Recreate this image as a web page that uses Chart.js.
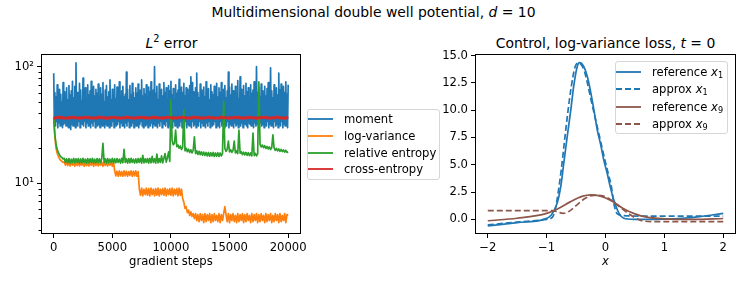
<!DOCTYPE html>
<html>
<head>
<meta charset="utf-8">
<script src="https://cdn.jsdelivr.net/npm/chart.js@4.4.1/dist/chart.umd.min.js"></script>
<style>
body { margin: 0; background: #fff; width: 747px; height: 291px; overflow: hidden; position: relative; font-family: 'DejaVu Sans', sans-serif; color: #000; }
canvas { position: absolute; top: 0; }
.t { position: absolute; text-align: center; white-space: nowrap; line-height: 16px; height: 16px; font-size: 13.9px; }
.leg { position: absolute; box-sizing: border-box; border: 1px solid #d6d6d6; border-radius: 3px; background: rgba(255,255,255,0.8); font-size: 11.6px; }
.row { position: absolute; left: 0; height: 16px; line-height: 16px; white-space: nowrap; }
.row svg { position: absolute; top: 6px; }
.row span { position: absolute; top: 0; }
sub { font-size: 70%; vertical-align: -2px; line-height: 0; }
sup { font-size: 70%; vertical-align: 6px; line-height: 0; }
</style>
</head>
<body>

<div class="t" style="left:0;width:747px;top:4px;">Multidimensional double well potential, <i>d</i> = 10</div>
<div class="t" style="left:42px;width:259px;top:35px;"><i>L</i><sup>2</sup> error</div>
<div class="t" style="left:476px;width:259px;top:35px;">Control, log-variance loss, <i>t</i> = 0</div>

<canvas id="lossChart" width="310" height="291" style="left:0"></canvas>
<canvas id="controlChart" width="307" height="291" style="left:440px"></canvas>

<div class="leg" style="left:307px;top:109px;width:133px;height:71px;">
  <div class="row" style="top:1px"><svg width="26" height="4"><line x1="0" y1="2" x2="25" y2="2" stroke="#1f77b4" stroke-width="1.8"/></svg><span style="left:36px">moment</span></div>
  <div class="row" style="top:17.5px"><svg width="26" height="4"><line x1="0" y1="2" x2="25" y2="2" stroke="#ff7f0e" stroke-width="1.8"/></svg><span style="left:36px">log-variance</span></div>
  <div class="row" style="top:34.5px"><svg width="26" height="4"><line x1="0" y1="2" x2="25" y2="2" stroke="#2ca02c" stroke-width="1.8"/></svg><span style="left:36px">relative entropy</span></div>
  <div class="row" style="top:51px"><svg width="26" height="4"><line x1="0" y1="2" x2="25" y2="2" stroke="#d62728" stroke-width="1.8"/></svg><span style="left:36px">cross-entropy</span></div>
</div>

<div class="leg" style="left:615px;top:61px;width:113px;height:73px;">
  <div class="row" style="top:2px"><svg width="26" height="4"><line x1="0" y1="2" x2="25" y2="2" stroke="#1f77b4" stroke-width="1.8"/></svg><span style="left:36px">reference <i>x</i><sub>1</sub></span></div>
  <div class="row" style="top:19px"><svg width="26" height="4"><line x1="0" y1="2" x2="25" y2="2" stroke="#1f77b4" stroke-width="1.8" stroke-dasharray="6,3"/></svg><span style="left:36px">approx <i>x</i><sub>1</sub></span></div>
  <div class="row" style="top:36.5px"><svg width="26" height="4"><line x1="0" y1="2" x2="25" y2="2" stroke="#8c564b" stroke-width="1.8"/></svg><span style="left:36px">reference <i>x</i><sub>9</sub></span></div>
  <div class="row" style="top:54px"><svg width="26" height="4"><line x1="0" y1="2" x2="25" y2="2" stroke="#8c564b" stroke-width="1.8" stroke-dasharray="6,3"/></svg><span style="left:36px">approx <i>x</i><sub>9</sub></span></div>
</div>

<script>
// ---- left panel: L2 error over training ----
// moment is read every 50 steps, the other losses every 100 steps
const momentSteps = [];
for (let s = 0; s <= 20000; s += 50) momentSteps.push(s);
const steps = [];
for (let s = 0; s <= 20000; s += 100) steps.push(s);

const moment = [
  88,33,60,31,55,34,70,30,52,33,64,31,58,34,50,30,73,32,61,33,
  56,31,66,34,52,30,69,33,57,29,62,32,75,31,54,34,68,30,108,33,
  60,31,55,34,72,30,63,33,51,32,80,31,58,34,66,30,53,33,70,31,
  57,34,62,30,75,33,52,31,68,34,56,30,64,33,59,31,71,32,54,30,
  66,33,58,31,73,34,50,30,63,32,69,31,55,34,61,30,77,33,52,31,
  64,34,57,30,70,33,53,31,67,32,60,34,74,30,56,33,62,31,68,32,
  55,30,58,33,90,31,64,34,52,30,69,32,57,31,72,33,60,30,54,34,
  66,31,59,33,71,30,53,32,63,34,77,31,56,30,65,33,58,31,70,32,
  54,30,67,34,61,31,74,33,55,30,63,32,100,31,59,34,68,30,52,33,
  71,31,58,34,64,30,56,33,73,32,60,31,66,34,53,30,69,33,62,31,
  75,33,57,30,65,34,52,31,70,33,59,30,63,32,78,31,55,34,67,30,
  60,33,72,31,56,34,66,30,64,32,58,31,69,33,82,30,73,34,61,31,
  57,32,66,30,88,33,60,31,54,34,71,30,63,33,58,31,67,32,55,30,
  74,33,59,31,65,34,52,30,70,33,61,31,57,32,68,34,63,30,72,31,
  55,33,66,30,60,34,73,31,58,32,64,30,69,33,54,31,62,34,90,30,
  67,32,57,31,71,34,62,30,55,33,68,31,60,32,76,30,53,34,82,31,
  64,33,58,30,69,32,56,34,72,31,61,30,66,33,54,32,70,31,59,34,
  63,30,74,33,57,31,100,32,60,34,67,30,55,33,71,31,62,32,58,30,
  68,33,56,31,65,34,73,30,59,32,98,31,62,33,54,30,70,34,61,31,
  66,32,57,30,88,33,63,31,71,34,55,30,68,32,60,31,74,33,58,30,
  70
];

const logVariance = [
  36,25,20,18,17,16.2,15.7,15.4,15.1,15.3,14.3,15.2,14.2,15.1,14.1,15.3,14.3,15.0,14.0,15.2,
  14.2,15.3,14.1,15.1,14.3,15.2,14.0,15.3,14.2,15.0,14.1,15.2,14.3,15.1,14.0,15.3,14.2,15.2,14.1,15.0,
  14.3,15.2,14.0,15.1,14.2,15.3,14.1,15.0,14.3,15.2,14.0,15.3,12.8,11.6,12.7,11.5,12.8,11.6,12.6,11.5,
  12.8,11.6,12.7,11.5,12.6,11.7,12.8,11.5,12.7,11.6,12.8,11.5,12.6,9.0,7.9,9.1,7.8,8.9,8.0,9.1,
  7.9,9.0,7.8,9.1,8.0,8.9,7.8,9.0,7.9,9.1,7.8,8.9,8.0,9.0,7.9,9.1,7.8,8.9,8.0,9.0,
  7.9,9.1,7.8,8.9,8.0,9.0,7.8,9.1,7.9,8.9,7.4,6.9,6.1,6.3,5.6,5.9,5.3,5.7,5.2,5.5,
  5.0,5.5,4.8,5.4,4.7,5.5,4.8,5.4,4.6,5.5,4.7,5.4,4.8,5.5,4.6,5.4,4.7,5.5,4.8,5.3,
  4.7,5.5,4.6,5.4,4.8,5.5,6.3,5.4,4.7,5.5,4.6,5.4,4.8,5.5,4.7,5.3,4.6,5.5,4.7,5.4,
  4.8,5.5,4.6,5.4,4.7,5.5,4.8,5.3,4.6,5.5,4.7,5.4,4.8,5.5,4.6,5.4,4.7,5.5,4.8,5.3,
  4.6,5.5,4.7,5.4,4.8,5.5,4.6,5.3,4.7,5.5,4.8,5.4,4.6,5.5,4.7,5.3,4.8,5.5,4.6,5.4,
  5.3
];

const relativeEntropy = [
  36,26,21.5,19.5,18.3,17.5,16.9,16.6,16.2,16.4,15.1,16.2,15.0,16.3,14.9,16.1,15.1,16.4,15.0,16.2,
  15.1,16.3,14.9,16.2,15.0,16.4,15.1,16.1,14.9,16.3,15.0,16.2,15.1,16.4,14.9,16.1,15.0,16.3,15.1,16.2,
  15.0,16.4,22,15.1,16.2,14.9,16.3,15.0,16.1,15.1,16.4,14.9,16.2,15.0,16.3,15.1,16.1,14.9,16.4,15.0,
  19.6,15.1,16.2,14.9,16.3,15.0,16.4,15.1,16.1,14.9,16.2,15.0,16.3,15.1,16.4,14.9,17.4,15.0,16.2,15.1,
  16.3,14.9,16.4,15.0,17.0,15.1,16.2,14.9,17.8,15.0,16.3,15.1,17.2,15.0,16.4,18.0,15.2,16.6,18.6,15.4,
  52,23.2,21.4,22.0,28.6,20.6,21.3,20.0,20.9,19.5,20.4,42.5,19.0,20.0,18.7,19.6,18.4,19.4,18.2,19.2,
  25,18.0,19.0,17.7,18.8,17.6,18.6,17.4,18.5,17.3,18.4,17.2,18.4,17.1,18.3,17.2,18.4,17.0,18.2,17.1,
  18.3,17.0,18.2,17.2,18.1,50.7,19.9,18.8,19.6,23,18.6,19.4,18.4,19.2,23,18.2,19.0,18.0,28.6,18.1,
  18.7,17.6,18.5,17.5,18.4,17.4,18.3,17.3,18.2,17.2,27,17.3,18.1,17.2,18.0,74,21.6,20.5,21.3,20.2,
  21.0,19.9,20.7,19.7,20.5,19.5,20.3,26,20.1,19.2,19.9,19.0,19.7,18.8,19.5,18.7,19.3,18.5,19.2,18.4,
  18.6
];

const crossEntropy = [
  37.4,35.7,37.2,35.9,37.5,35.6,37.3,35.8,37.4,35.7,37.1,35.9,37.5,35.6,37.2,35.8,37.4,35.7,37.3,35.9,
  37.2,35.6,37.5,35.8,37.3,35.7,37.4,35.9,37.1,35.6,37.5,35.8,37.2,35.7,37.4,35.9,37.3,35.6,37.5,35.8,
  37.4,35.7,37.2,35.9,37.5,35.6,37.3,35.8,37.4,35.7,37.1,35.9,37.5,35.6,37.2,35.8,37.4,35.7,37.3,35.9,
  37.2,35.6,37.5,35.8,37.3,35.7,37.4,35.9,37.1,35.6,37.5,35.8,37.2,35.7,37.4,35.9,37.3,35.6,37.5,35.8,
  37.4,35.7,37.2,35.9,37.5,35.6,37.3,35.8,37.4,35.7,37.1,35.9,37.5,35.6,37.2,35.8,37.4,35.7,37.3,35.9,
  37.2,35.6,37.5,35.8,37.3,35.7,37.4,35.9,37.1,35.6,37.5,35.8,37.2,35.7,37.4,35.9,37.3,35.6,37.5,35.8,
  37.4,35.7,37.2,35.9,37.5,35.6,37.3,35.8,37.4,35.7,37.1,35.9,37.5,35.6,37.2,35.8,37.4,35.7,37.3,35.9,
  37.2,35.6,37.5,35.8,37.3,35.7,37.4,35.9,37.1,35.6,37.5,35.8,37.2,35.7,37.4,35.9,37.3,35.6,37.5,35.8,
  37.4,35.7,37.2,35.9,37.5,35.6,37.3,35.8,37.4,35.7,37.1,35.9,37.5,35.6,37.2,35.8,37.4,35.7,37.3,35.9,
  37.2,35.6,37.5,35.8,37.3,35.7,37.4,35.9,37.1,35.6,37.5,35.8,37.2,35.7,37.4,35.9,37.3,35.6,37.5,35.8,
  37.0
];

const lossXTicks = [0, 5000, 10000, 15000, 20000];
const lossYTicks = [4, 5, 6, 7, 8, 9, 10, 20, 30, 40, 50, 60, 70, 80, 90, 100];

// ---- right panel: control at t = 0 ----
const ref1X = [-2,-1.5,-1.05,-0.92,-0.82,-0.76,-0.71,-0.65,-0.59,-0.54,-0.48,-0.44,-0.37,-0.31,-0.25,-0.19,-0.14,-0.08,-0.03,0.03,0.08,0.14,0.23,0.31,0.48,0.7,1.0,1.3,1.6,2.0];
const ref1Y = [-0.6,-0.3,0.0,0.4,1.5,3.0,5.1,7.6,10.0,12.2,14.0,14.35,14.0,13.1,11.6,9.8,8.2,6.8,5.45,4.2,3.0,1.8,0.55,0.1,0.0,0.0,0.02,0.1,0.25,0.55];
const approx1X = [-2,-1.5,-1.0,-0.9,-0.85,-0.8,-0.75,-0.7,-0.64,-0.58,-0.52,-0.47,-0.42,-0.36,-0.3,-0.24,-0.18,-0.12,-0.06,0.0,0.06,0.1,0.14,0.2,0.3,0.6,1.0,1.5,2.0];
const approx1Y = [-0.5,-0.25,0.0,0.2,1.0,2.6,4.6,7.0,9.8,12.2,13.9,14.3,14.2,13.6,12.3,10.8,9.4,8.0,6.6,5.2,3.9,3.0,1.5,0.5,0.35,0.3,0.3,0.3,0.3];
const ref9X = [-2,-1.5,-1.0,-0.8,-0.6,-0.4,-0.25,-0.1,0.1,0.3,0.5,0.7,1.0,1.5,2.0];
const ref9Y = [-0.13,0.1,0.55,1.0,1.6,2.1,2.24,2.15,1.7,1.0,0.5,0.2,0.05,0.0,0.08];
const approx9X = [-2,-0.9,-0.8,-0.72,-0.6,-0.49,-0.35,-0.2,-0.05,0.1,0.25,0.4,0.6,0.8,1.0,1.5,2.0];
const approx9Y = [0.8,0.8,0.65,0.55,0.8,1.3,1.9,2.2,2.15,1.75,1.1,0.5,-0.1,-0.2,-0.2,-0.2,-0.2];

const ctrlXTicks = [-2, -1, 0, 1, 2];
const ctrlYTicks = [0, 2.5, 5, 7.5, 10, 12.5, 15];

const tickFont = { family: 'DejaVu Sans', size: 11.6 };

function pairs(xs, ys) {
    return xs.map((x, i) => ({ x: x, y: ys[i] }));
}

// full box around the axes, matplotlib style
const boxPlugin = {
    id: 'box',
    afterDraw(chart) {
        const a = chart.chartArea;
        const c = chart.ctx;
        c.save();
        c.strokeStyle = '#000';
        c.lineWidth = 1;
        c.strokeRect(Math.round(a.left) - 0.5, Math.round(a.top) - 0.5,
            Math.round(a.right - a.left) + 1, Math.round(a.bottom - a.top) + 1);
        // short minor ticks on a log axis
        const y = chart.scales.y;
        if (y.type === 'logarithmic') {
            c.beginPath();
            lossYTicks.forEach(v => {
                if (v === 10 || v === 100) return;
                const py = Math.round(y.getPixelForValue(v)) + 0.5;
                c.moveTo(a.left - 3.5, py);
                c.lineTo(a.left, py);
            });
            c.stroke();
        }
        c.restore();
    }
};

function lineSet(label, data, color, order, dashed) {
    return {
        label: label,
        data: data,
        borderColor: color,
        borderWidth: 1.7,
        borderDash: dashed ? [6, 3] : [],
        borderJoinStyle: 'round',
        pointRadius: 0,
        fill: false,
        tension: 0,
        order: order
    };
}

const lossChart = new Chart(document.getElementById('lossChart').getContext('2d'), {
    type: 'line',
    data: {
        datasets: [
            lineSet('moment', pairs(momentSteps, moment), '#1f77b4', 4),
            lineSet('log-variance', pairs(steps, logVariance), '#ff7f0e', 3),
            lineSet('relative entropy', pairs(steps, relativeEntropy), '#2ca02c', 2),
            lineSet('cross-entropy', pairs(steps, crossEntropy), '#d62728', 1)
        ]
    },
    options: {
        responsive: false,
        animation: false,
        devicePixelRatio: 1,
        layout: { padding: { top: 55, right: 9, left: 0, bottom: 0 } },
        plugins: { legend: { display: false }, tooltip: { enabled: false } },
        scales: {
            x: {
                type: 'linear',
                min: -1000,
                max: 21000,
                afterBuildTicks: s => { s.ticks = lossXTicks.map(v => ({ value: v })); },
                afterFit: s => { s.height = 58; },
                ticks: { font: tickFont, color: '#000', padding: 3, maxRotation: 0, autoSkip: false, callback: v => String(v) },
                grid: { drawOnChartArea: false, tickLength: 5, tickColor: '#000', tickWidth: 1 },
                border: { display: false },
                title: { display: true, text: 'gradient steps', font: tickFont, color: '#000', padding: { top: 0, bottom: 22 } }
            },
            y: {
                type: 'logarithmic',
                min: 3.75,
                max: 126,
                afterBuildTicks: s => { s.ticks = lossYTicks.map(v => ({ value: v })); },
                afterFit: s => { s.width = 42; },
                ticks: {
                    font: tickFont, color: '#000', padding: 3, autoSkip: false,
                    callback: v => v === 10 ? '10\u00b9' : (v === 100 ? '10\u00b2' : '')
                },
                grid: {
                    drawOnChartArea: false, tickLength: 5, tickWidth: 1,
                    tickColor: c => (c.tick && (c.tick.value === 10 || c.tick.value === 100)) ? '#000' : 'rgba(0,0,0,0)'
                },
                border: { display: false }
            }
        }
    },
    plugins: [boxPlugin]
});

const controlChart = new Chart(document.getElementById('controlChart').getContext('2d'), {
    type: 'line',
    data: {
        datasets: [
            lineSet('reference x1', pairs(ref1X, ref1Y), '#1f77b4', 4),
            lineSet('approx x1', pairs(approx1X, approx1Y), '#1f77b4', 3, true),
            lineSet('reference x9', pairs(ref9X, ref9Y), '#8c564b', 2),
            lineSet('approx x9', pairs(approx9X, approx9Y), '#8c564b', 1, true)
        ]
    },
    options: {
        responsive: false,
        animation: false,
        devicePixelRatio: 1,
        layout: { padding: { top: 55, right: 12, left: 0, bottom: 0 } },
        plugins: { legend: { display: false }, tooltip: { enabled: false } },
        elements: { line: { cubicInterpolationMode: 'monotone' } },
        scales: {
            x: {
                type: 'linear',
                min: -2.2,
                max: 2.2,
                afterBuildTicks: s => { s.ticks = ctrlXTicks.map(v => ({ value: v })); },
                afterFit: s => { s.height = 58; },
                ticks: { font: tickFont, color: '#000', padding: 3, maxRotation: 0, autoSkip: false,
                    callback: v => v < 0 ? '\u2212' + Math.abs(v) : String(v) },
                grid: { drawOnChartArea: false, tickLength: 5, tickColor: '#000', tickWidth: 1 },
                border: { display: false },
                title: { display: true, text: 'x', font: { family: 'DejaVu Sans', size: 11.6, style: 'italic' }, color: '#000', padding: { top: 0, bottom: 22 } }
            },
            y: {
                type: 'linear',
                min: -1.25,
                max: 15.05,
                afterBuildTicks: s => { s.ticks = ctrlYTicks.map(v => ({ value: v })); },
                afterFit: s => { s.width = 36; },
                ticks: { font: tickFont, color: '#000', padding: 3, autoSkip: false, callback: v => v.toFixed(1) },
                grid: { drawOnChartArea: false, tickLength: 5, tickColor: '#000', tickWidth: 1 },
                border: { display: false }
            }
        }
    },
    plugins: [boxPlugin]
});
</script>
</body>
</html>
